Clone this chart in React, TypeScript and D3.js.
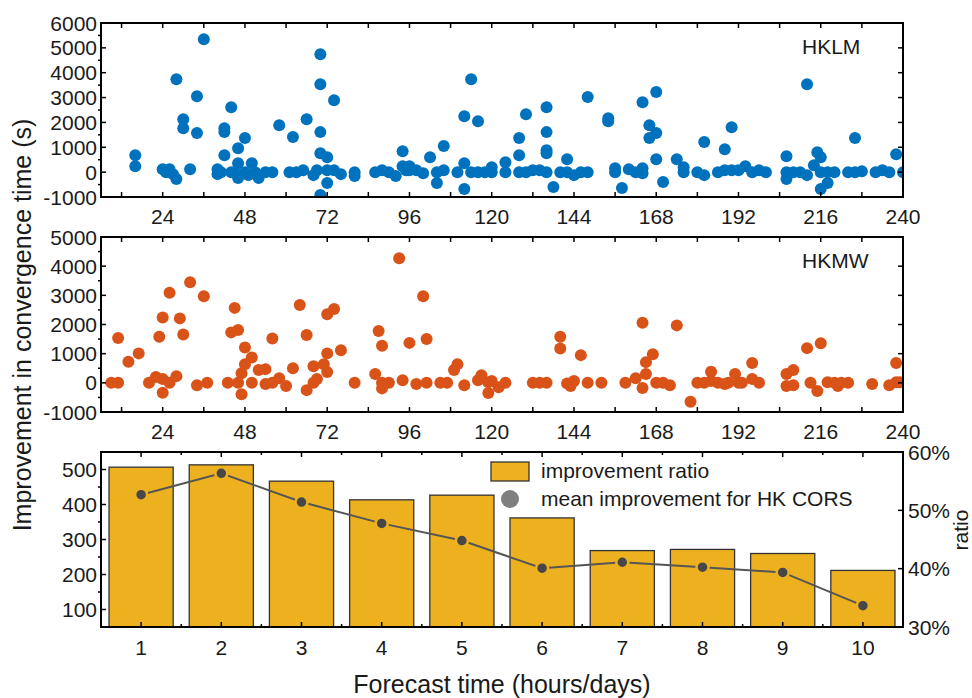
import React, { useEffect, useRef } from 'react';
import * as d3 from 'd3';

// [forecast hour, improvement in convergence time (s)]
const hklmPoints: [number, number][] = [
  [16, 680], [16, 240], [24, 120], [25, 0], [26, 120], [27, -80], [28, -280], [28, 3740],
  [30, 2130], [30, 1770], [32, 120], [34, 3050], [34, 1570], [36, 5350], [40, 120], [40, -80],
  [41, 0], [42, 1770], [42, 1610], [42, 680], [44, 0], [44, 2610], [45, 0], [46, 960],
  [46, 360], [46, -240], [48, 0], [48, 1370], [49, -120], [50, 360], [51, 0], [52, -240],
  [54, 0], [56, 0], [58, 1890], [61, 0], [62, 1410], [63, 0], [65, 80], [66, 2130],
  [68, -120], [69, 80], [70, 4740], [70, 3540], [70, 1610], [70, 760], [70, -920], [72, 600],
  [72, -440], [72, 80], [74, 2890], [74, 80], [76, -80], [80, 0], [80, -160], [86, 0],
  [88, 80], [90, 0], [92, -160], [94, 240], [94, 840], [95, 80], [96, 240], [96, 80],
  [98, 80], [100, -40], [102, 600], [104, -440], [104, 0], [106, 1050], [106, 80], [110, 0],
  [112, -680], [112, 2250], [112, 360], [114, 3740], [114, 0], [116, 2050], [116, 0], [118, 0],
  [120, 200], [120, 0], [124, 400], [124, 0], [128, 1370], [128, 680], [128, 0], [130, 2330],
  [130, 0], [132, 80], [134, 80], [136, 2610], [136, 1610], [136, 880], [136, 760], [136, 0],
  [138, -600], [140, 0], [142, 520], [142, 0], [144, -120], [146, 0], [148, 3020], [148, 0],
  [154, 2170], [154, 2050], [156, 160], [156, 0], [158, -640], [160, 120], [162, 0], [164, 160],
  [164, -40], [164, 2810], [166, 1890], [166, 1370], [168, 3220], [168, 1570], [168, 520], [170, -400],
  [174, 520], [176, 200], [176, 0], [180, 0], [182, -120], [182, 1210], [186, 0], [188, 80],
  [188, 920], [190, 80], [190, 1810], [192, 80], [194, 240], [196, 0], [198, 80], [200, 0],
  [206, 0], [206, 640], [206, -280], [208, 0], [210, 0], [212, 3540], [212, -120], [214, 280],
  [215, 800], [216, 600], [216, 0], [216, -680], [218, -440], [218, 0], [220, 0], [224, 0],
  [226, 0], [226, 1370], [228, 40], [232, 0], [234, 80], [236, 0], [238, 720], [240, 0],
];

const hkmwPoints: [number, number][] = [
  [9, 0], [11, 0], [11, 1540], [14, 720], [17, 1010], [20, 0], [22, 200], [23, 1580],
  [24, 2240], [24, 130], [24, -340], [26, 3090], [26, 0], [28, 230], [29, 2210], [30, 1660],
  [32, 3450], [34, -80], [36, 2970], [37, 0], [43, 0], [44, 1730], [46, 0], [45, 2570],
  [46, 1810], [47, 330], [47, -390], [48, 1210], [48, 640], [50, 870], [50, 0], [52, 440],
  [54, 470], [54, -40], [56, 1520], [56, 0], [58, 160], [60, -110], [62, 500], [64, 2670],
  [66, -250], [66, 1640], [68, 0], [68, 570], [69, 130], [71, 640], [72, 370], [72, 1010],
  [72, 2350], [74, 2530], [76, 1120], [80, 0], [86, 300], [87, 1780], [88, 1270], [88, 0],
  [88, -190], [90, 0], [93, 4270], [94, 90], [96, 1370], [98, -40], [100, 2970], [101, 0],
  [101, 1500], [105, 0], [107, 0], [109, 440], [110, 640], [112, -80], [116, 90], [117, 260],
  [119, 20], [119, -350], [120, 60], [122, -150], [124, 0], [132, 0], [134, 0], [136, 0],
  [140, 1580], [140, 1180], [142, -20], [143, -110], [144, 60], [146, 950], [148, 0], [152, 0],
  [159, 0], [162, 160], [164, -180], [165, 300], [165, 710], [164, 2060], [167, 980], [168, 0],
  [170, 0], [172, -80], [174, 1970], [178, -650], [180, 0], [182, 0], [184, 380], [184, 60],
  [186, 0], [188, -40], [189, 0], [191, 300], [192, 0], [193, 0], [196, 130], [196, 680],
  [198, 0], [206, 300], [208, 440], [206, -110], [208, -80], [212, 1190], [213, 0], [215, -280],
  [216, 1360], [218, 20], [220, 0], [221, -110], [222, 0], [224, 0], [231, -40], [236, -80],
  [238, 20], [238, 680], [239, 20],
];

const forecastSteps = [1, 2, 3, 4, 5, 6, 7, 8, 9, 10];
const improvementRatio = [57.4, 57.8, 55.0, 51.8, 52.6, 48.7, 43.1, 43.3, 42.6, 39.7];
const meanImprovement = [428, 489, 407, 346, 297, 218, 235, 221, 206, 111];

const hourTicks = [24, 48, 72, 96, 120, 144, 168, 192, 216, 240];
const hklmTicks = [-1000, 0, 1000, 2000, 3000, 4000, 5000, 6000];
const hkmwTicks = [-1000, 0, 1000, 2000, 3000, 4000, 5000];
const meanTicks = [100, 200, 300, 400, 500];
const ratioTicks = [30, 40, 50, 60];

const FONT = '"Liberation Sans", Arial, Helvetica, sans-serif';
const LEFT = 101;
const RIGHT = 903;
const BLUE = '#0072BD';
const ORANGE = '#D95319';
const GOLD = '#EDB120';

function tickLines(g, data, x1, y1, x2, y2) {
  g.append('g')
    .selectAll('line')
    .data(data)
    .join('line')
    .attr('x1', x1).attr('y1', y1)
    .attr('x2', x2).attr('y2', y2)
    .attr('stroke', '#000')
    .attr('stroke-width', 1.5);
}

function drawScatter(svg, points, color, label, top, bottom, yTicks, clipId) {
  const x = d3.scaleLinear().domain([6, 240]).range([LEFT, RIGHT]);
  const y = d3.scaleLinear().domain([yTicks[0], yTicks[yTicks.length - 1]]).range([bottom, top]);
  const g = svg.append('g');

  g.append('clipPath').attr('id', clipId)
    .append('rect')
    .attr('x', LEFT).attr('y', top)
    .attr('width', RIGHT - LEFT).attr('height', bottom - top);

  g.append('g')
    .attr('clip-path', `url(#${clipId})`)
    .selectAll('circle')
    .data(points)
    .join('circle')
    .attr('cx', d => x(d[0]))
    .attr('cy', d => y(d[1]))
    .attr('r', 6)
    .attr('fill', color);

  // x ticks every 12 h, inward on both edges
  const xt = d3.range(12, 241, 12);
  tickLines(g, xt, d => x(d), bottom, d => x(d), bottom - 5);
  tickLines(g, xt, d => x(d), top, d => x(d), top + 5);

  // y ticks: major inward, minor outward on the left
  tickLines(g, yTicks, RIGHT, d => y(d), RIGHT - 5, d => y(d));
  tickLines(g, yTicks, LEFT, d => y(d), LEFT + 5, d => y(d));
  tickLines(g, yTicks.slice(0, -1).map(v => v + 500), LEFT, d => y(d), LEFT - 3, d => y(d));

  g.append('rect')
    .attr('x', LEFT).attr('y', top)
    .attr('width', RIGHT - LEFT).attr('height', bottom - top)
    .attr('fill', 'none').attr('stroke', '#000').attr('stroke-width', 2);

  g.append('g')
    .selectAll('text')
    .data(hourTicks)
    .join('text')
    .attr('x', d => x(d))
    .attr('y', bottom + 27)
    .attr('text-anchor', 'middle')
    .attr('font-size', 21)
    .text(d => d);

  g.append('g')
    .selectAll('text')
    .data(yTicks)
    .join('text')
    .attr('x', LEFT - 4)
    .attr('y', d => y(d))
    .attr('dy', '0.36em')
    .attr('text-anchor', 'end')
    .attr('font-size', 21)
    .text(d => d);

  g.append('text')
    .attr('x', 802)
    .attr('y', top + 31)
    .attr('font-size', 21)
    .text(label);
}

function drawBars(svg) {
  const top = 452;
  const bottom = 627;
  const x = d3.scaleLinear().domain([0.5, 10.5]).range([LEFT, RIGHT]);
  const yMean = d3.scaleLinear().domain([50, 550]).range([bottom, top]);
  const yRatio = d3.scaleLinear().domain([30, 60]).range([bottom, top]);
  const g = svg.append('g');

  g.append('g')
    .selectAll('rect')
    .data(forecastSteps)
    .join('rect')
    .attr('x', d => x(d - 0.4))
    .attr('width', d => x(d + 0.4) - x(d - 0.4))
    .attr('y', (d, i) => yRatio(improvementRatio[i]))
    .attr('height', (d, i) => bottom - yRatio(improvementRatio[i]))
    .attr('fill', GOLD)
    .attr('stroke', '#333')
    .attr('stroke-width', 1.3);

  const line = d3.line()
    .x((d, i) => x(forecastSteps[i]))
    .y(d => yMean(d));

  g.append('path')
    .datum(meanImprovement)
    .attr('d', line)
    .attr('fill', 'none')
    .attr('stroke', '#555')
    .attr('stroke-width', 2);

  g.append('g')
    .selectAll('circle')
    .data(meanImprovement)
    .join('circle')
    .attr('cx', (d, i) => x(forecastSteps[i]))
    .attr('cy', d => yMean(d))
    .attr('r', 6)
    .attr('fill', '#474747')
    .attr('stroke', GOLD)
    .attr('stroke-width', 2.5);

  const xt = forecastSteps;
  const xm = d3.range(1.5, 10.5, 1);
  tickLines(g, xt, d => x(d), bottom, d => x(d), bottom - 5);
  tickLines(g, xm, d => x(d), bottom, d => x(d), bottom - 3);
  tickLines(g, xt, d => x(d), top, d => x(d), top + 5);
  tickLines(g, xm, d => x(d), top, d => x(d), top + 3);
  tickLines(g, meanTicks, LEFT, d => yMean(d), LEFT + 5, d => yMean(d));
  tickLines(g, [150, 250, 350, 450], LEFT, d => yMean(d), LEFT - 3, d => yMean(d));
  tickLines(g, ratioTicks, RIGHT, d => yRatio(d), RIGHT - 5, d => yRatio(d));

  g.append('rect')
    .attr('x', LEFT).attr('y', top)
    .attr('width', RIGHT - LEFT).attr('height', bottom - top)
    .attr('fill', 'none').attr('stroke', '#000').attr('stroke-width', 2);

  g.append('g')
    .selectAll('text')
    .data(forecastSteps)
    .join('text')
    .attr('x', d => x(d))
    .attr('y', bottom + 28)
    .attr('text-anchor', 'middle')
    .attr('font-size', 21)
    .text(d => d);

  g.append('g')
    .selectAll('text')
    .data(meanTicks)
    .join('text')
    .attr('x', LEFT - 4)
    .attr('y', d => yMean(d))
    .attr('dy', '0.36em')
    .attr('text-anchor', 'end')
    .attr('font-size', 21)
    .text(d => d);

  g.append('g')
    .selectAll('text')
    .data(ratioTicks)
    .join('text')
    .attr('x', RIGHT + 5)
    .attr('y', d => yRatio(d))
    .attr('dy', '0.36em')
    .attr('font-size', 21)
    .text(d => d + '%');

  // legend
  g.append('rect')
    .attr('x', 491).attr('y', 462).attr('width', 38).attr('height', 19)
    .attr('fill', GOLD).attr('stroke', '#333').attr('stroke-width', 1.3);
  g.append('circle')
    .attr('cx', 510).attr('cy', 499).attr('r', 9)
    .attr('fill', '#7f7f7f');
  g.append('text').attr('x', 541).attr('y', 478).attr('font-size', 21).text('improvement ratio');
  g.append('text').attr('x', 541).attr('y', 506).attr('font-size', 21).text('mean improvement for HK CORS');
}

export default function App() {
  const ref = useRef(null);

  useEffect(() => {
    const svg = d3.select(ref.current);
    svg.selectAll('*').remove();
    svg.append('rect').attr('width', 972).attr('height', 698).attr('fill', '#fff');

    drawScatter(svg, hklmPoints, BLUE, 'HKLM', 23, 197, hklmTicks, 'clip-hklm');
    drawScatter(svg, hkmwPoints, ORANGE, 'HKMW', 237, 412, hkmwTicks, 'clip-hkmw');
    drawBars(svg);

    svg.append('text')
      .attr('transform', 'translate(31,325) rotate(-90)')
      .attr('text-anchor', 'middle')
      .attr('font-size', 25)
      .text('Improvement in convergence time (s)');

    svg.append('text')
      .attr('x', 502)
      .attr('y', 693)
      .attr('text-anchor', 'middle')
      .attr('font-size', 25)
      .text('Forecast time (hours/days)');

    svg.append('text')
      .attr('transform', 'translate(968,530) rotate(-90)')
      .attr('text-anchor', 'middle')
      .attr('font-size', 21)
      .text('ratio');
  }, []);

  return (
    <svg
      ref={ref}
      width={972}
      height={698}
      style={{ position: 'absolute', left: 0, top: 0, fontFamily: FONT, fill: '#1a1a1a' }}
    />
  );
}
